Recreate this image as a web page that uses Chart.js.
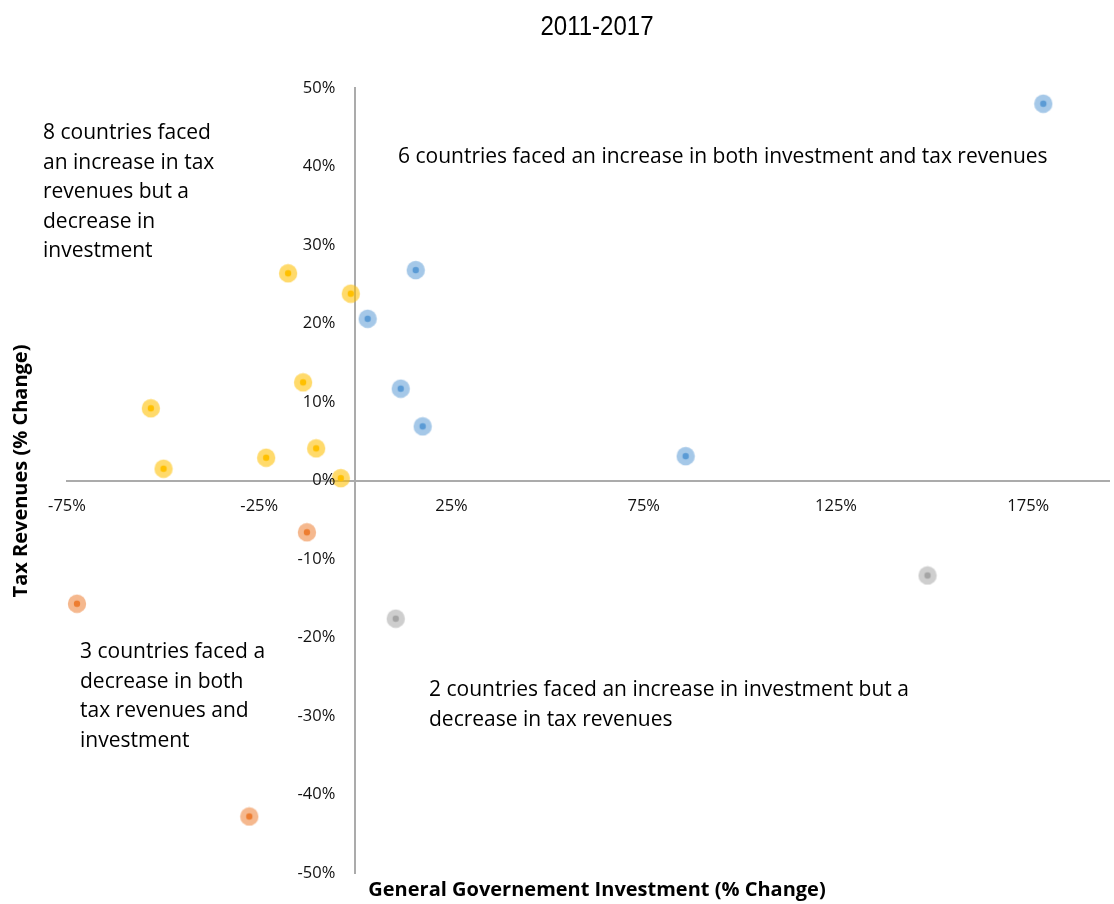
<!DOCTYPE html>
<html>
  <head>
    <meta charset="UTF-8" />
    <title>Investment vs tax revenues 2011-2017</title>
    <style>
      body { margin: 0; background: #fff; }
      #wrap { width: 1114px; height: 904px; position: relative; }
    </style>
  </head>
  <body>
    <div id="wrap"><canvas id="myCanvas"></canvas></div>
    <script src="https://cdn.jsdelivr.net/npm/chart.js@4/dist/chart.umd.min.js"></script>
    <script>
      // % change 2011-2017: x = general government investment, y = tax revenues
      const bothUpX = [178.9, 15.7, 3.2, 11.8, 17.5, 85.9];
      const bothUpY = [48.0, 26.8, 20.6, 11.7, 6.9, 3.1];

      const taxUpX = [-17.5, -1.2, -13.6, -53.2, -49.9, -23.2, -10.2, -3.8];
      const taxUpY = [26.4, 23.8, 12.5, 9.2, 1.5, 2.9, 4.1, 0.3];

      const bothDownX = [-12.6, -72.4, -27.6];
      const bothDownY = [-6.6, -15.7, -42.8];

      const invUpX = [148.8, 10.5];
      const invUpY = [-12.1, -17.6];

      const xTicks = [-75, -25, 25, 75, 125, 175];

      const notes = [
        { lines: ["8 countries faced", "an increase in tax", "revenues but a", "decrease in", "investment"], x: 43, y: 133 },
        { lines: ["6 countries faced an increase in both investment and tax revenues"], x: 398, y: 157 },
        { lines: ["3 countries faced a", "decrease in both", "tax revenues and", "investment"], x: 80, y: 652 },
        { lines: ["2 countries faced an increase in investment but a", "decrease in tax revenues"], x: 429, y: 690 }
      ];

      const FONT = "'Open Sans', Lato, sans-serif";

      function toPoints(xs, ys) {
        return xs.map((x, i) => ({ x: x, y: ys[i] }));
      }

      // marker: soft halo with a solid dot in the middle
      function marker(color, halo) {
        const c = document.createElement("canvas");
        c.width = 20;
        c.height = 20;
        const g = c.getContext("2d");
        g.fillStyle = halo;
        g.beginPath();
        g.arc(10, 10, 9.2, 0, Math.PI * 2);
        g.fill();
        g.fillStyle = color;
        g.beginPath();
        g.arc(10, 10, 3.2, 0, Math.PI * 2);
        g.fill();
        return c;
      }

      const textPlugin = {
        id: "quadrantText",
        afterDraw(chart) {
          const ctx = chart.ctx;
          const xs = chart.scales.x;
          const ys = chart.scales.y;
          ctx.save();
          ctx.fillStyle = "#111";
          ctx.textBaseline = "middle";

          // y tick labels sit left of the zero line
          ctx.font = "16.5px " + FONT;
          ctx.textAlign = "right";
          const x0 = xs.getPixelForValue(0);
          ys.ticks.forEach(t => {
            ctx.fillText(t.value + "%", x0 - 20, ys.getPixelForValue(t.value));
          });

          ctx.fillStyle = "#000";
          // title (narrowed)
          ctx.save();
          ctx.font = "27px 'Liberation Sans', Arial, sans-serif";
          ctx.textAlign = "center";
          ctx.translate(597, 28);
          ctx.scale(0.89, 1);
          ctx.fillText("2011-2017", 0, 0);
          ctx.restore();

          // quadrant notes
          ctx.font = "21px " + FONT;
          ctx.textAlign = "left";
          notes.forEach(n => {
            n.lines.forEach((l, i) => ctx.fillText(l, n.x, n.y + i * 29.6));
          });

          // axis titles
          ctx.font = "bold 20px " + FONT;
          ctx.textAlign = "center";
          ctx.fillText("General Governement Investment (% Change)", 597, 890);
          ctx.translate(21, 471);
          ctx.rotate(-Math.PI / 2);
          ctx.fillText("Tax Revenues (% Change)", 0, 0);
          ctx.restore();
        }
      };

      const ctx = document.getElementById("myCanvas").getContext("2d");
      const myChart = new Chart(ctx, {
        type: "scatter",
        data: {
          datasets: [
            { label: "Both up", data: toPoints(bothUpX, bothUpY), pointStyle: marker("#5b9bd5", "rgba(91,155,213,0.55)") },
            { label: "Tax up", data: toPoints(taxUpX, taxUpY), pointStyle: marker("#ffc000", "rgba(255,192,0,0.58)") },
            { label: "Both down", data: toPoints(bothDownX, bothDownY), pointStyle: marker("#ed7d31", "rgba(237,125,49,0.55)") },
            { label: "Investment up", data: toPoints(invUpX, invUpY), pointStyle: marker("#a5a5a5", "rgba(165,165,165,0.55)") }
          ]
        },
        options: {
          responsive: true,
          maintainAspectRatio: false,
          animation: false,
          layout: { padding: { left: 67, right: 0, top: 88, bottom: 31 } },
          plugins: {
            legend: { display: false },
            tooltip: { enabled: false }
          },
          scales: {
            x: {
              type: "linear",
              position: { y: 0 },
              min: -75,
              max: 196,
              afterBuildTicks: axis => {
                axis.ticks = xTicks.map(v => ({ value: v }));
              },
              grid: { display: false, drawTicks: false },
              border: { color: "#ababab", width: 2 },
              ticks: {
                padding: 16,
                color: "#111",
                font: { family: FONT, size: 16.5 },
                callback: v => v + "%"
              }
            },
            y: {
              type: "linear",
              position: { x: 0 },
              min: -50,
              max: 50,
              grid: { display: false, drawTicks: false },
              border: { color: "#ababab", width: 2 },
              ticks: { stepSize: 10, display: false }
            }
          }
        },
        plugins: [textPlugin]
      });
    </script>
  </body>
</html>
